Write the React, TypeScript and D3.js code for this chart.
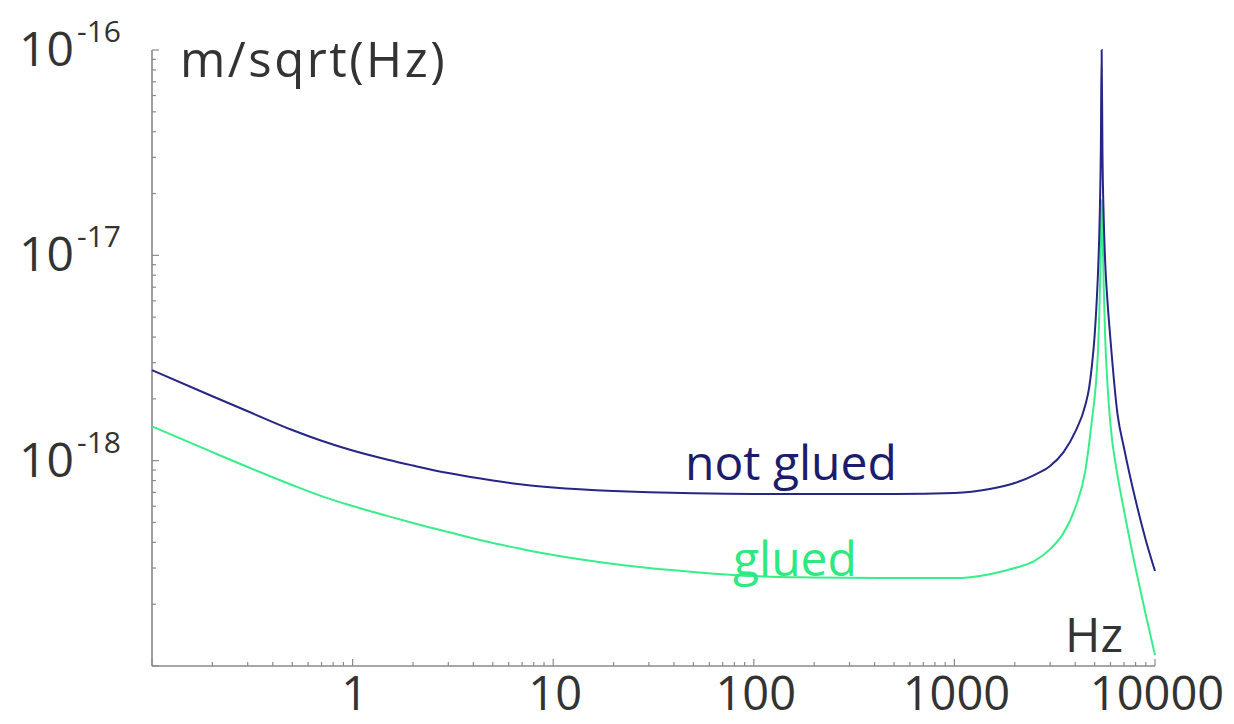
import React from "react";
import * as d3 from "d3";

// Displacement noise spectra (m/sqrt(Hz)) sampled at the listed frequencies (Hz)
const freqs = [
  0.1, 0.2, 0.3, 0.5, 0.7, 1, 1.5, 2, 3, 5, 7, 10, 20, 30, 50, 100, 200, 500,
  1000, 1500, 2000, 2500, 3000, 3500, 4000, 4500, 4700, 4850, 5000, 5100, 5200,
  5300, 5370, 5420, 5470, 5550, 5650, 5800, 6000, 6500, 7000, 8000, 9000, 10000,
];

const notGlued = [
  2.76e-18, 2.06e-18, 1.74e-18, 1.41e-18, 1.25e-18, 1.12e-18, 1.01e-18, 9.47e-19,
  8.7e-19, 8.0e-19, 7.65e-19, 7.4e-19, 7.11e-19, 7.01e-19, 6.93e-19, 6.88e-19,
  6.88e-19, 6.88e-19, 6.95e-19, 7.27e-19, 7.78e-19, 8.51e-19, 9.41e-19, 1.1e-18,
  1.38e-18, 1.87e-18, 2.28e-18, 2.92e-18, 4.05e-18, 5.54e-18, 8.29e-18, 1.52e-17,
  3.26e-17, 1e-16, 3.26e-17, 1.52e-17, 9.07e-18, 5.92e-18, 3.87e-18, 1.69e-18,
  1.16e-18, 6.43e-19, 4.1e-19, 2.9e-19,
];

const glued = [
  1.47e-18, 1.1e-18, 9.31e-19, 7.61e-19, 6.72e-19, 6.01e-19, 5.37e-19, 4.97e-19,
  4.49e-19, 3.97e-19, 3.71e-19, 3.47e-19, 3.14e-19, 3.0e-19, 2.87e-19, 2.74e-19,
  2.7e-19, 2.68e-19, 2.68e-19, 2.8e-19, 3.0e-19, 3.24e-19, 3.71e-19, 4.44e-19,
  5.88e-19, 9.0e-19, 1.22e-18, 1.58e-18, 2.02e-18, 2.53e-18, 3.46e-18, 6.06e-18,
  1.12e-17, 1.86e-17, 1.36e-17, 7.17e-18, 3.87e-18, 2.33e-18, 1.49e-18, 8.51e-19,
  5.75e-19, 3.0e-19, 1.77e-19, 1.13e-19,
];

const xLabels = [1, 10, 100, 1000, 10000];
const yLabelExps = [-16, -17, -18];

const W = 1234;
const H = 724;
const FONT = "'Open Sans', 'DejaVu Sans', sans-serif";
const AXIS = "#8a8a8a";
const TEXT = "#333333";
const NAVY = "#262686";
const GREEN = "#38ee88";

const isDecade = (v: number) => {
  const l = Math.log10(v);
  return Math.abs(l - Math.round(l)) < 1e-9;
};

export default function App() {
  const x = d3.scaleLog().domain([0.1, 10000]).range([152, 1155]);
  const y = d3.scaleLog().domain([1e-19, 1e-16]).range([666, 50]);

  const line = d3
    .line<number>()
    .x((_, i) => x(freqs[i]))
    .y((d) => y(d))
    .curve(d3.curveMonotoneX);

  const [x0, x1] = x.range();
  const [yb, yt] = y.range();
  const xTicks = x.ticks();
  const yTicks = y.ticks();

  return (
    <svg
      width={W}
      height={H}
      viewBox={`0 0 ${W} ${H}`}
      style={{ position: "absolute", left: 0, top: 0, background: "#fff" }}
    >
      <rect x={0} y={0} width={W} height={H} fill="#fff" />

      {/* axes */}
      <line x1={x0} y1={yb} x2={x1} y2={yb} stroke={AXIS} strokeWidth={1.6} />
      <line x1={x0} y1={yb} x2={x0} y2={yt} stroke={AXIS} strokeWidth={1.6} />

      {xTicks.map((t, i) => (
        <line
          key={`xt${i}`}
          x1={x(t)}
          x2={x(t)}
          y1={yb}
          y2={yb - (isDecade(t) ? 7 : 4)}
          stroke={AXIS}
          strokeWidth={1.2}
        />
      ))}
      {yTicks.map((t, i) => (
        <line
          key={`yt${i}`}
          x1={x0}
          x2={x0 + (isDecade(t) ? 7 : 4)}
          y1={y(t)}
          y2={y(t)}
          stroke={AXIS}
          strokeWidth={1.2}
        />
      ))}

      {/* x tick labels */}
      {xLabels.map((v) => (
        <text
          key={`xl${v}`}
          x={x(v) + 2}
          y={710}
          textAnchor="middle"
          fontFamily={FONT}
          fontSize={47}
          fill={TEXT}
        >
          {v}
        </text>
      ))}

      {/* y tick labels */}
      {yLabelExps.map((e) => {
        const ty = y(Math.pow(10, e));
        return (
          <g key={`yl${e}`}>
            <text
              x={74}
              y={ty + 16}
              textAnchor="end"
              fontFamily={FONT}
              fontSize={48}
              fill={TEXT}
            >
              10
            </text>
            <text
              x={77}
              y={ty - 8}
              textAnchor="start"
              fontFamily={FONT}
              fontSize={30}
              fill={TEXT}
            >
              {`${e}`}
            </text>
          </g>
        );
      })}

      {/* unit labels */}
      <text
        x={180}
        y={77}
        fontFamily={FONT}
        fontSize={49}
        letterSpacing={2.5}
        fill={TEXT}
      >
        m/sqrt(Hz)
      </text>
      <text x={1065} y={652} fontFamily={FONT} fontSize={48} fill={TEXT}>
        Hz
      </text>

      {/* spectra */}
      <path d={line(glued) ?? ""} fill="none" stroke={GREEN} strokeWidth={2} />
      <path d={line(notGlued) ?? ""} fill="none" stroke={NAVY} strokeWidth={2} />

      {/* curve labels */}
      <text x={685} y={480} fontFamily={FONT} fontSize={48} fill="#1c1c6c">
        not glued
      </text>
      <text x={733} y={576} fontFamily={FONT} fontSize={48} fill="#2ee880">
        glued
      </text>
    </svg>
  );
}
